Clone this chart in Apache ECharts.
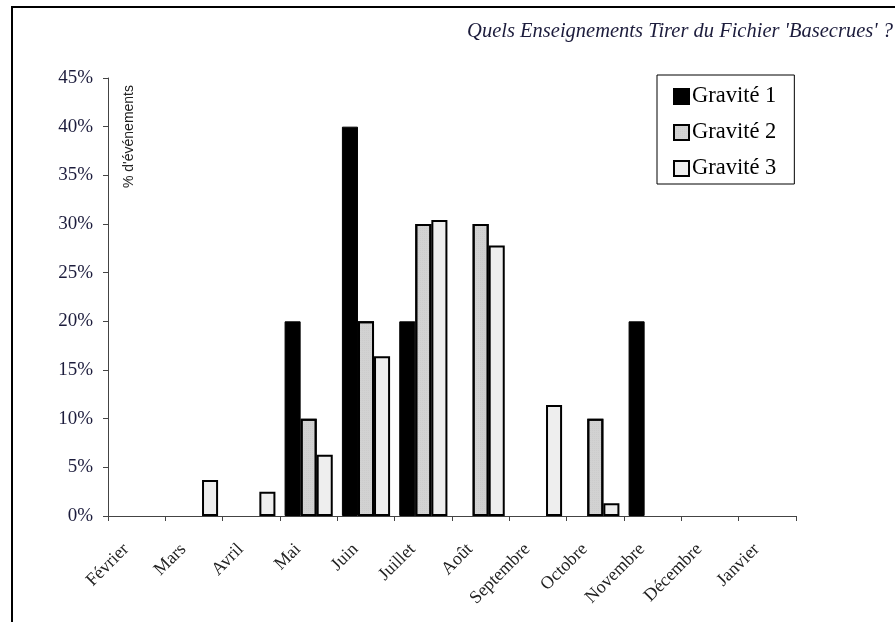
<!DOCTYPE html>
<html>
<head>
<meta charset="utf-8">
<script src="https://cdn.jsdelivr.net/npm/echarts@6/dist/echarts.min.js"></script>
<style>
html,body{margin:0;padding:0;background:#fff;}
#chart{width:895px;height:622px;}
</style>
</head>
<body>
<div id="chart"></div>
<script>
var months = ['Février','Mars','Avril','Mai','Juin','Juillet','Août','Septembre','Octobre','Novembre','Décembre','Janvier'];
var gravite1 = [0, 0, 0, 20, 40, 20, 0, 0, 0, 20, 0, 0];
var gravite2 = [0, 0, 0, 10, 20, 30, 30, 0, 10, 0, 0, 0];
var gravite3 = [0, 3.7, 2.5, 6.3, 16.4, 30.4, 27.8, 11.4, 1.3, 0, 0, 0];
var seriesNames = ['Gravité 1', 'Gravité 2', 'Gravité 3'];
var titleText = "Quels Enseignements Tirer du Fichier 'Basecrues' ?";
var yAxisName = "% d'événements";

function noZero(arr){ return arr.map(function(v){ return v === 0 ? '-' : v; }); }

var chart = echarts.init(document.getElementById('chart'));
var serif = '"Liberation Serif", "Times New Roman", serif';
var navy = '#1c1c3c';

chart.setOption({
  animation: false,
  backgroundColor: '#fff',
  title: {
    text: titleText,
    right: 2,
    top: 22,
    padding: 0,
    textStyle: { fontFamily: serif, fontStyle: 'italic', fontWeight: 'normal', fontSize: 20.5, color: navy }
  },
  legend: {
    orient: 'vertical',
    left: 657,
    top: 75,
    padding: [10, 18, 4, 16],
    itemGap: 13,
    itemWidth: 15,
    itemHeight: 15,
    icon: 'rect',
    borderColor: '#000',
    borderWidth: 1,
    borderRadius: 0,
    textStyle: { fontFamily: serif, fontSize: 22.5, color: '#000', padding: [0,0,0,-2] },
    data: seriesNames
  },
  grid: { left: 108, right: 99, top: 78, bottom: 106, containLabel: false },
  xAxis: {
    type: 'category',
    data: months,
    boundaryGap: true,
    axisLine: { lineStyle: { color: '#444', width: 1 } },
    axisTick: { show: true, length: 5, lineStyle: { color: '#444' } },
    axisLabel: { rotate: 45, margin: 20, padding: [0, 15, 0, 0], fontFamily: serif, fontSize: 18, color: '#222', interval: 0 },
    splitLine: { show: false }
  },
  yAxis: {
    type: 'value',
    min: 0,
    max: 45,
    interval: 5,
    axisLine: { show: true, lineStyle: { color: '#444', width: 1 } },
    axisTick: { show: true, length: 5, lineStyle: { color: '#444' } },
    axisLabel: { formatter: '{value}%', margin: 15, fontFamily: serif, fontSize: 19, color: navy },
    splitLine: { show: false }
  },
  series: [
    {
      name: seriesNames[0], type: 'bar', data: noZero(gravite1),
      barGap: '0%', barCategoryGap: '16%',
      itemStyle: { color: '#000', borderColor: '#000', borderWidth: 1 }
    },
    {
      name: seriesNames[1], type: 'bar', data: noZero(gravite2),
      barGap: '0%', barCategoryGap: '16%',
      itemStyle: { color: '#d2d2d2', borderColor: '#000', borderWidth: 2,
        decal: { symbol: 'rect', symbolSize: 0.5, dashArrayX: [1, 1], dashArrayY: [1, 1], color: 'rgba(150,150,150,0.35)' } }
    },
    {
      name: seriesNames[2], type: 'bar', data: noZero(gravite3),
      barGap: '0%', barCategoryGap: '16%',
      itemStyle: { color: '#eeeeee', borderColor: '#000', borderWidth: 2 }
    }
  ],
  graphic: [
    { type: 'line', shape: { x1: 12, y1: 6, x2: 12, y2: 622 }, style: { stroke: '#000', lineWidth: 2 } },
    { type: 'line', shape: { x1: 11, y1: 7, x2: 895, y2: 7 }, style: { stroke: '#000', lineWidth: 2 } },
    { type: 'text', x: 129, y: 85, rotation: Math.PI / 2,
      style: { text: yAxisName, fontFamily: '"Liberation Sans", Arial, sans-serif', fontSize: 14, fill: '#222',
               align: 'right', verticalAlign: 'middle' } }
  ]
});
</script>
</body>
</html>
